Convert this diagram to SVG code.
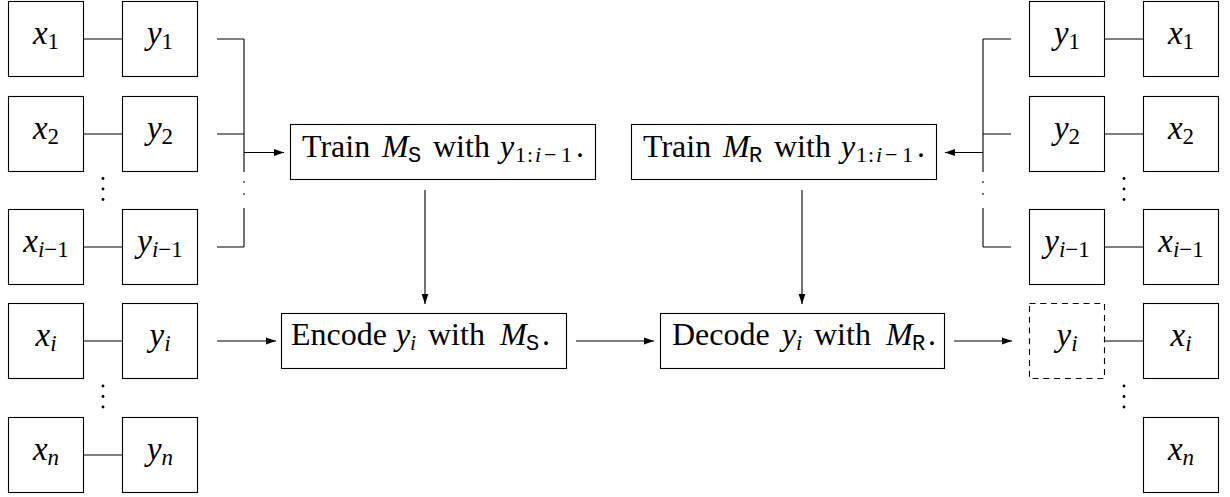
<svg xmlns="http://www.w3.org/2000/svg" width="1230" height="497" viewBox="0 0 1230 497">
<style>
.box{fill:#fff;stroke:#000;stroke-width:1.1}
.dash{fill:#fff;stroke:#000;stroke-width:1.1;stroke-dasharray:6 4.8}
.ln{fill:none;stroke:#000;stroke-width:1.1}
.t{font-family:"Liberation Serif",serif;font-size:32px;fill:#000}
.lbl{font-family:"Liberation Serif",serif;font-size:33px;fill:#000;text-anchor:middle;font-style:italic}
.i{font-style:italic}
.s{font-size:22px}
.ls{font-size:23px}
.tt{font-family:"Liberation Mono",monospace;font-size:22px;font-style:normal}
.n{font-style:normal}
.dot{fill:#000}
</style>
<defs>
<marker id="ah" markerUnits="userSpaceOnUse" markerWidth="11" markerHeight="8" refX="10" refY="4" orient="auto">
<path d="M0,0.6 L10,4 L0,7.4 Z" fill="#000"/>
</marker>
</defs>

<g id="connectors">
<path class="ln" d="M84,39 H122 M84,134 H122 M84,247 H122 M84,341 H122 M84,455 H122"/>
<path class="ln" d="M1105,39 H1143 M1105,134 H1143 M1105,247 H1143 M1105,341 H1143"/>
<path class="ln" d="M217,39 H244 M217,134 H244 M217,247 H244 M244,39 V172 M244,208 V247 M244,181 V183 M244,193 V195"/>
<path class="ln" d="M244,152.5 H284" marker-end="url(#ah)"/>
<path class="ln" d="M1011,39 H983 M1011,134 H983 M1011,247 H983 M983,39 V172 M983,208 V247 M983,181 V183 M983,193 V195"/>
<path class="ln" d="M983,152.5 H945" marker-end="url(#ah)"/>
<path class="ln" d="M425,190 V304" marker-end="url(#ah)"/>
<path class="ln" d="M802,190 V304" marker-end="url(#ah)"/>
<path class="ln" d="M217,341 H276" marker-end="url(#ah)"/>
<path class="ln" d="M576,341 H654" marker-end="url(#ah)"/>
<path class="ln" d="M954,341 H1012" marker-end="url(#ah)"/>
</g>

<g id="dots">
<circle class="dot" cx="103" cy="178.5" r="1.4"/><circle class="dot" cx="103" cy="189" r="1.4"/><circle class="dot" cx="103" cy="199.5" r="1.4"/>
<circle class="dot" cx="103" cy="386" r="1.4"/><circle class="dot" cx="103" cy="396.5" r="1.4"/><circle class="dot" cx="103" cy="407" r="1.4"/>
<circle class="dot" cx="1124" cy="178.5" r="1.4"/><circle class="dot" cx="1124" cy="189" r="1.4"/><circle class="dot" cx="1124" cy="199.5" r="1.4"/>
<circle class="dot" cx="1124" cy="386" r="1.4"/><circle class="dot" cx="1124" cy="396.5" r="1.4"/><circle class="dot" cx="1124" cy="407" r="1.4"/>
</g>

<g id="lx1"><rect class="box" x="8.5" y="1.5" width="75" height="75"/><text class="lbl" x="46" y="44">x<tspan class="ls n" dy="4.5">1</tspan></text></g>
<g id="ly1"><rect class="box" x="122.5" y="1.5" width="75" height="75"/><text class="lbl" x="160" y="44">y<tspan class="ls n" dy="4.5">1</tspan></text></g>
<g id="lx2"><rect class="box" x="8.5" y="96.5" width="75" height="75"/><text class="lbl" x="46" y="139">x<tspan class="ls n" dy="4.5">2</tspan></text></g>
<g id="ly2"><rect class="box" x="122.5" y="96.5" width="75" height="75"/><text class="lbl" x="160" y="139">y<tspan class="ls n" dy="4.5">2</tspan></text></g>
<g id="lxim1"><rect class="box" x="8.5" y="209.5" width="75" height="75"/><text class="lbl" x="46" y="252">x<tspan class="ls" dy="4.5">i</tspan><tspan class="ls n">−1</tspan></text></g>
<g id="lyim1"><rect class="box" x="122.5" y="209.5" width="75" height="75"/><text class="lbl" x="160" y="252">y<tspan class="ls" dy="4.5">i</tspan><tspan class="ls n">−1</tspan></text></g>
<g id="lxi"><rect class="box" x="8.5" y="303.5" width="75" height="75"/><text class="lbl" x="46" y="346">x<tspan class="ls" dy="4.5">i</tspan></text></g>
<g id="lyi"><rect class="box" x="122.5" y="303.5" width="75" height="75"/><text class="lbl" x="160" y="346">y<tspan class="ls" dy="4.5">i</tspan></text></g>
<g id="lxn"><rect class="box" x="8.5" y="417.5" width="75" height="75"/><text class="lbl" x="46" y="460">x<tspan class="ls" dy="4.5">n</tspan></text></g>
<g id="lyn"><rect class="box" x="122.5" y="417.5" width="75" height="75"/><text class="lbl" x="160" y="460">y<tspan class="ls" dy="4.5">n</tspan></text></g>

<g id="ry1"><rect class="box" x="1029.5" y="1.5" width="75" height="75"/><text class="lbl" x="1067" y="44">y<tspan class="ls n" dy="4.5">1</tspan></text></g>
<g id="rx1"><rect class="box" x="1143.5" y="1.5" width="75" height="75"/><text class="lbl" x="1181" y="44">x<tspan class="ls n" dy="4.5">1</tspan></text></g>
<g id="ry2"><rect class="box" x="1029.5" y="96.5" width="75" height="75"/><text class="lbl" x="1067" y="139">y<tspan class="ls n" dy="4.5">2</tspan></text></g>
<g id="rx2"><rect class="box" x="1143.5" y="96.5" width="75" height="75"/><text class="lbl" x="1181" y="139">x<tspan class="ls n" dy="4.5">2</tspan></text></g>
<g id="ryim1"><rect class="box" x="1029.5" y="209.5" width="75" height="75"/><text class="lbl" x="1067" y="252">y<tspan class="ls" dy="4.5">i</tspan><tspan class="ls n">−1</tspan></text></g>
<g id="rxim1"><rect class="box" x="1143.5" y="209.5" width="75" height="75"/><text class="lbl" x="1181" y="252">x<tspan class="ls" dy="4.5">i</tspan><tspan class="ls n">−1</tspan></text></g>
<g id="ryi"><rect class="dash" x="1029.5" y="303.5" width="75" height="75"/><text class="lbl" x="1067" y="346">y<tspan class="ls" dy="4.5">i</tspan></text></g>
<g id="rxi"><rect class="box" x="1143.5" y="303.5" width="75" height="75"/><text class="lbl" x="1181" y="346">x<tspan class="ls" dy="4.5">i</tspan></text></g>
<g id="rxn"><rect class="box" x="1143.5" y="417.5" width="75" height="75"/><text class="lbl" x="1181" y="460">x<tspan class="ls" dy="4.5">n</tspan></text></g>

<g id="trainS"><rect class="box" x="290.5" y="124.5" width="305" height="55"/>
<text class="t" y="157"><tspan x="302">Train</tspan><tspan x="382" class="i">M</tspan><tspan x="408" class="tt" dy="4.5">S</tspan><tspan x="433" dy="-4.5">with</tspan><tspan x="500" class="i">y</tspan><tspan x="515" class="s" dy="4.5">1</tspan><tspan x="527" class="s">:</tspan><tspan x="535" class="s i">i</tspan><tspan x="544" class="s">−</tspan><tspan x="561" class="s">1</tspan><tspan x="576" dy="-4.5">.</tspan></text></g>

<g id="trainR"><rect class="box" x="631.5" y="124.5" width="305" height="55"/>
<text class="t" y="157"><tspan x="643">Train</tspan><tspan x="723" class="i">M</tspan><tspan x="749" class="tt" dy="4.5">R</tspan><tspan x="774" dy="-4.5">with</tspan><tspan x="841" class="i">y</tspan><tspan x="856" class="s" dy="4.5">1</tspan><tspan x="868" class="s">:</tspan><tspan x="876" class="s i">i</tspan><tspan x="885" class="s">−</tspan><tspan x="902" class="s">1</tspan><tspan x="917" dy="-4.5">.</tspan></text></g>

<g id="encode"><rect class="box" x="281.5" y="313.5" width="285" height="55"/>
<text class="t" y="345"><tspan x="291">Encode</tspan><tspan x="396" class="i">y</tspan><tspan x="410" class="s i" dy="4.5">i</tspan><tspan x="428" dy="-4.5">with</tspan><tspan x="500" class="i">M</tspan><tspan x="526" class="tt" dy="4.5">S</tspan><tspan x="542" dy="-4.5">.</tspan></text></g>

<g id="decode"><rect class="box" x="660.5" y="313.5" width="284" height="55"/>
<text class="t" y="345"><tspan x="672">Decode</tspan><tspan x="782" class="i">y</tspan><tspan x="796" class="s i" dy="4.5">i</tspan><tspan x="814" dy="-4.5">with</tspan><tspan x="886" class="i">M</tspan><tspan x="912" class="tt" dy="4.5">R</tspan><tspan x="928" dy="-4.5">.</tspan></text></g>
</svg>
